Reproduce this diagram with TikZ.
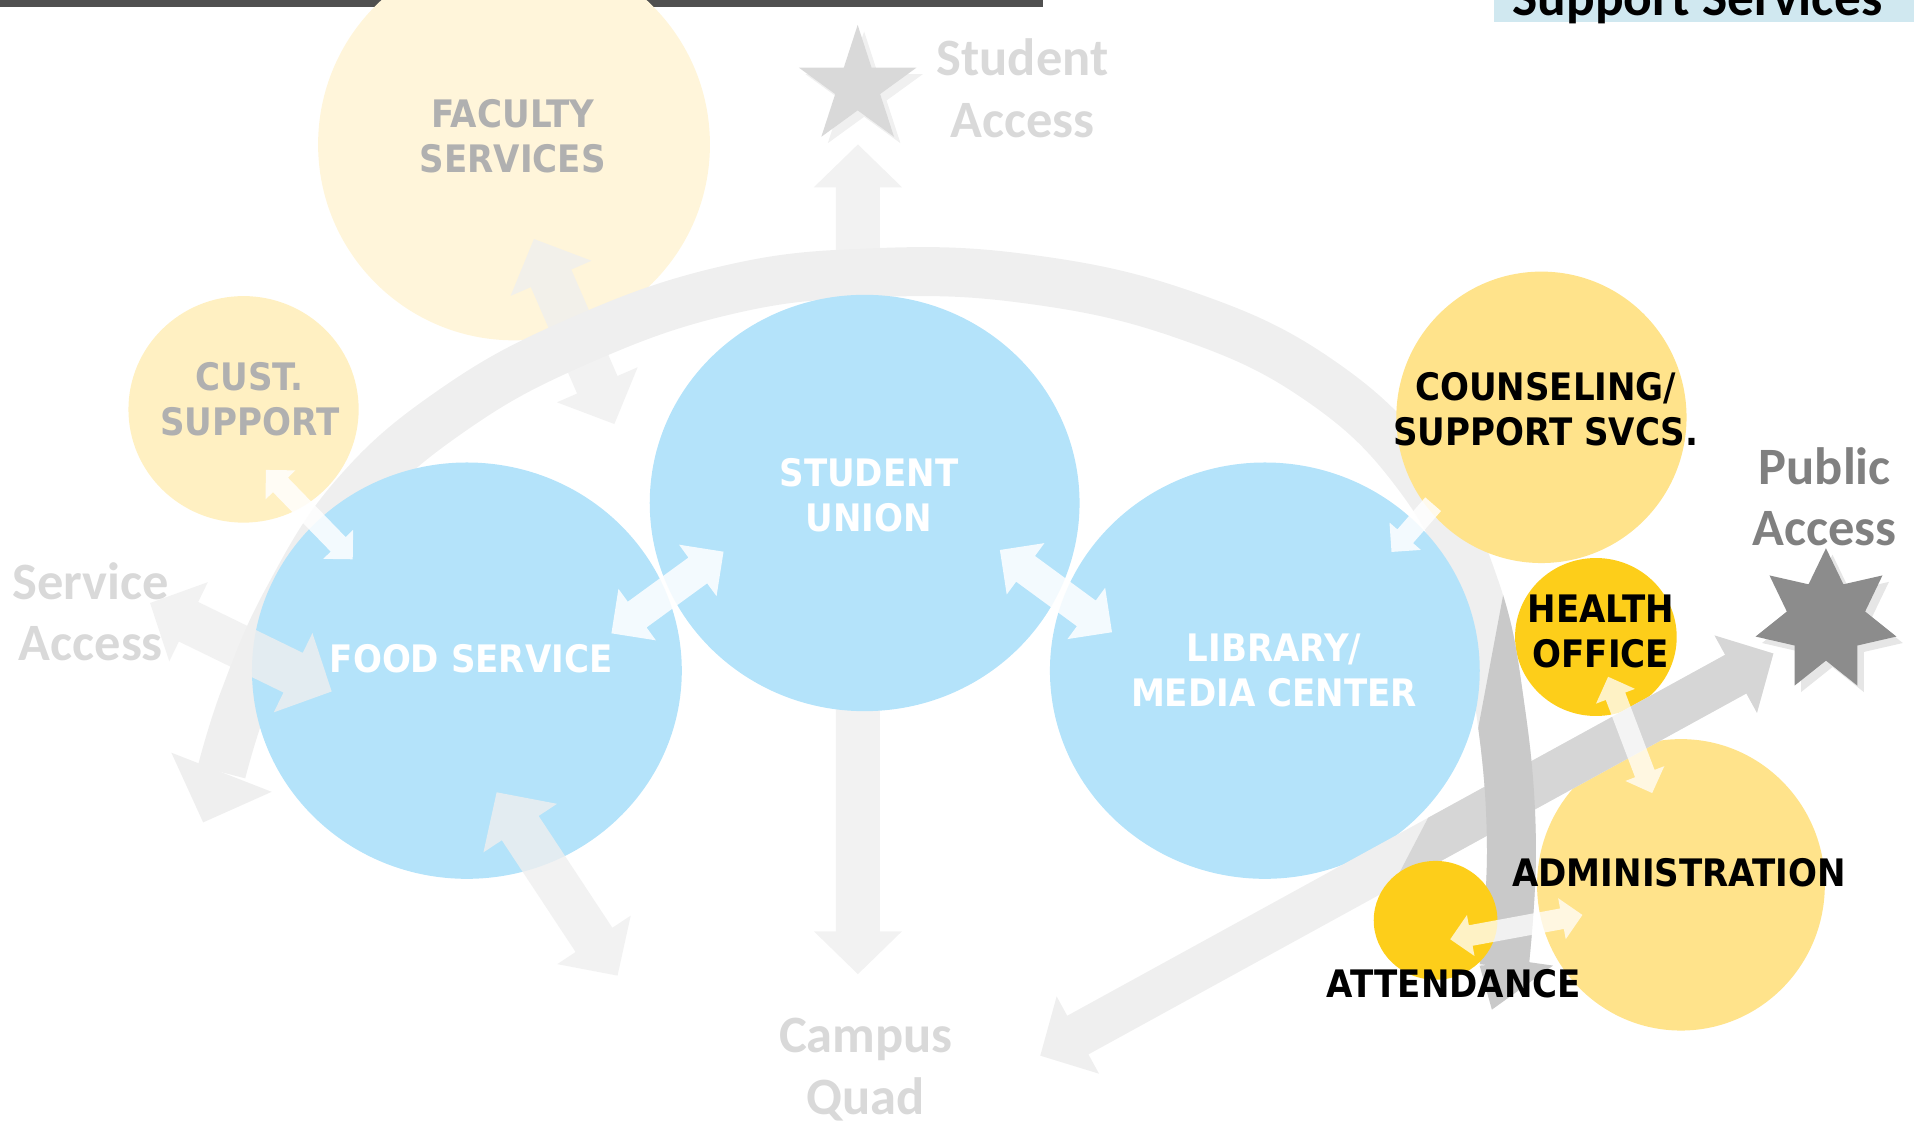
\documentclass[tikz,border=0pt]{standalone}
\usepackage{fontspec}
\usepackage{tikz}
\usetikzlibrary{calc}
\usetikzlibrary{shapes}
\usetikzlibrary{shadows}

\newfontfamily\lblfont[FakeStretch=0.9]{DejaVu Sans}
\newfontfamily\accfont{Carlito}

\definecolor{unionblue}{HTML}{B4E3FA}
\definecolor{paleyellow}{HTML}{FFF5DA}
\definecolor{custyellow}{HTML}{FFF0C2}
\definecolor{softyellow}{HTML}{FFE38B}
\definecolor{deepyellow}{HTML}{FDCE1A}
\definecolor{bandgray}{HTML}{EFEFEF}
\definecolor{banddark}{HTML}{C9C9C9}
\definecolor{diagdark}{HTML}{D6D6D6}
\definecolor{fadedtext}{HTML}{D9D9D9}
\definecolor{labelgray}{HTML}{B0B0B0}
\definecolor{publicgray}{HTML}{8C8C8C}
\definecolor{publictext}{HTML}{808080}
\definecolor{topbar}{HTML}{505050}
\definecolor{headerblue}{HTML}{D0E8F0}

% double block arrow: style, from, to, half shaft, half head, head length
\newcommand{\dblarrow}[6]{ \fill[#1] (#2) -- ($(#2)!#6!(#3)!#5!90:(#3)$) -- ($(#2)!#6!(#3)!#4!90:(#3)$) -- ($(#3)!#6!(#2)!#4!-90:(#2)$) -- ($(#3)!#6!(#2)!#5!-90:(#2)$) -- (#3) -- ($(#3)!#6!(#2)!#5!90:(#2)$) -- ($(#3)!#6!(#2)!#4!90:(#2)$) -- ($(#2)!#6!(#3)!#4!-90:(#3)$) -- ($(#2)!#6!(#3)!#5!-90:(#3)$) -- cycle;}
% single block arrow, head at the second point
\newcommand{\onearrow}[6]{ \fill[#1] ($(#2)!#4!90:(#3)$) -- ($(#3)!#6!(#2)!#4!-90:(#2)$) -- ($(#3)!#6!(#2)!#5!-90:(#2)$) -- (#3) -- ($(#3)!#6!(#2)!#5!90:(#2)$) -- ($(#3)!#6!(#2)!#4!90:(#2)$) -- ($(#2)!#4!-90:(#3)$) -- cycle;}
\newcommand{\bigarrow}[3]{\dblarrow{#1}{#2}{#3}{0.18cm}{0.36cm}{0.35cm}}
\newcommand{\midarrow}[3]{\dblarrow{#1}{#2}{#3}{0.13cm}{0.26cm}{0.26cm}}
\newcommand{\smallarrow}[3]{\dblarrow{#1}{#2}{#3}{0.085cm}{0.17cm}{0.17cm}}
% the big arc round the union
\newcommand{\arcpath}{plot[smooth, tension=0.7] coordinates {(181,631) (200,570) (235,490) (290,405) (370,335) (470,280) (590,238) (710,223) (840,228) (970,258) (1080,312) (1160,390) (1205,480) (1226,580) (1235,690) (1229,790)}}

\tikzset{
  blob/.style={ellipse, inner sep=0pt, outer sep=0pt},
  lbl/.style={align=center, font=\lblfont\bfseries\fontsize{8.8}{10.5}\selectfont},
  acc/.style={align=center, font=\accfont\bfseries\fontsize{12.2}{14.3}\selectfont},
  grayarrow/.style={fill=bandgray, fill opacity=0.8},
  whitearrow/.style={fill=white, fill opacity=0.85},
  palearrow/.style={fill=white, fill opacity=0.75},
}

\begin{document}
\begin{tikzpicture}[x=0.01cm, y=-0.01cm]
        \useasboundingbox (0,0) rectangle (1568,916);

        % header
        \fill[topbar] (0,0) rectangle (852,5.7);
        \fill[headerblue] (1220.7,-5) rectangle (1564,18);
        \node[anchor=base, font=\accfont\bfseries\fontsize{12.4}{14}\selectfont] (hdr) at (1387,12.3) {Support Services};

        % arrow ends
        \coordinate (quadTop) at (701,118);
        \coordinate (quadBot) at (701,796);
        \coordinate (svcOut) at (122.6,492.7);
        \coordinate (svcIn) at (271,565);
        \coordinate (facTop) at (436.3,195.3);
        \coordinate (facBot) at (502,346.5);
        \coordinate (foodIn) at (405.8,647.4);
        \coordinate (foodOut) at (504.6,797.2);
        \coordinate (pubLow) at (850,862.6);
        \coordinate (pubHigh) at (1449,534);
        \coordinate (foodU) at (499.6,517.5);
        \coordinate (unionF) at (591.2,450.8);
        \coordinate (unionL) at (817,449.4);
        \coordinate (libU) at (908.6,516.6);
        \coordinate (custF) at (217.3,384);
        \coordinate (foodC) at (288.2,457);
        \coordinate (counL) at (1171,412);
        \coordinate (libC) at (1137,451);
        \coordinate (healthA) at (1314,553);
        \coordinate (adminH) at (1350,648);
        \coordinate (attA) at (1185,767.5);
        \coordinate (adminT) at (1293,747.6);

        % campus quad / student access
        \bigarrow{grayarrow}{quadTop}{quadBot}

        % back circles
        \node[blob, fill=paleyellow, minimum width=3.2cm, minimum height=3.2cm] (faculty) at (420,118) {};
        \node[blob, fill=custyellow, minimum width=1.88cm, minimum height=1.85cm] (cust) at (199,334.5) {};

        % big arc
        \draw[bandgray, line width=0.4cm] \arcpath;
        \fill[bandgray] (140,615) -- (166,672) -- (222,647) -- cycle;

        % main circles
        \node[blob, fill=unionblue, minimum width=3.51cm, minimum height=3.4cm] (food) at (381.5,548) {};
        \node[blob, fill=unionblue, minimum width=3.51cm, minimum height=3.4cm] (union) at (706.5,411) {};
        \node[blob, fill=unionblue, minimum width=3.51cm, minimum height=3.4cm] (library) at (1033.5,548) {};

        \bigarrow{grayarrow}{svcOut}{svcIn}
        \bigarrow{grayarrow}{facTop}{facBot}
        \bigarrow{grayarrow}{foodIn}{foodOut}

        % support circles
        \node[blob, fill=softyellow, minimum width=2.37cm, minimum height=2.38cm] (counseling) at (1259.5,341) {};
        \node[blob, fill=deepyellow, minimum width=1.32cm, minimum height=1.29cm] (health) at (1304,520.5) {};
        \node[blob, fill=softyellow, minimum width=2.35cm, minimum height=2.38cm] (admin) at (1373.5,723) {};

        % public access
        \bigarrow{fill=bandgray}{pubLow}{pubHigh}
        \begin{scope}
          \clip (1181.6,640) -- (1119,760) -- (1560,760) -- (1560,420) -- (1300,420) -- cycle;
          \bigarrow{fill=diagdark}{pubLow}{pubHigh}
        \end{scope}

        % arc tail
        \begin{scope}
          \clip (1190,690) -- (1235,450) -- (1300,450) -- (1300,900) -- (1190,900) -- cycle;
          \draw[banddark, line width=0.4cm] \arcpath;
        \end{scope}
        \fill[banddark] (1209,789) -- (1219,825) -- (1269,789) -- (1248,786) -- cycle;

        \node[blob, fill=deepyellow, minimum width=1.01cm, minimum height=0.97cm] (attendance) at (1173,752) {};

        % links
        \midarrow{whitearrow}{foodU}{unionF}
        \midarrow{whitearrow}{unionL}{libU}
        \smallarrow{whitearrow}{custF}{foodC}
        \onearrow{whitearrow}{counL}{libC}{0.085cm}{0.17cm}{0.17cm}
        \smallarrow{palearrow}{healthA}{adminH}
        \smallarrow{palearrow}{attA}{adminT}

        % stars
        \node[star, star points=5, star point ratio=2.62, minimum size=1.01cm, inner sep=0pt, fill=fadedtext, drop shadow={opacity=0.12, shadow xshift=1.5pt, shadow yshift=-1.5pt}] (stuStar) at (700.8,70.9) {};
        \node[star, star points=7, star point ratio=1.8, minimum size=1.18cm, inner sep=0pt, fill=publicgray, drop shadow={opacity=0.2, shadow xshift=1.5pt, shadow yshift=-1.5pt}] (pubStar) at (1492,507) {};

        % access labels
        \node[acc, text=fadedtext] (stuAcc) at (835.5,72.2) {Student\\Access};
        \node[acc, text=publictext] (pubAcc) at (1491,406) {Public\\Access};
        \node[acc, text=fadedtext] (svcAcc) at (74.3,500) {Service\\Access};
        \node[acc, text=fadedtext] (quad) at (707.5,874) {Campus\\Quad};

        % circle labels
        \node[lbl, text=labelgray] (facT) at (419,111.5) {FACULTY\\SERVICES};
        \node[lbl, text=labelgray] (custT) at (204,326.5) {CUST.\\SUPPORT};
        \node[lbl, text=white] (unionT) at (710,404.5) {STUDENT\\UNION};
        \node[lbl, text=white] (foodT) at (385,538) {FOOD SERVICE};
        \node[lbl, text=white] (libT) at (1041,548) {LIBRARY/\\MEDIA CENTER};
        \node[lbl] (counT) at (1263,334.5) {COUNSELING/\\SUPPORT SVCS.};
        \node[lbl] (healthT) at (1308,516) {HEALTH\\OFFICE};
        \node[lbl] (adminL) at (1372,713) {ADMINISTRATION};
        \node[lbl] (attT) at (1188,804) {ATTENDANCE};

    \end{tikzpicture}
\end{document}
